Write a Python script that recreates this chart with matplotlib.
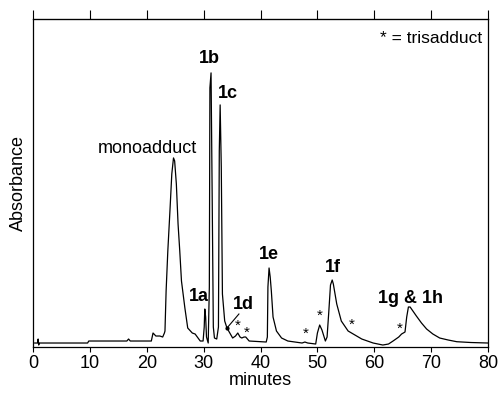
import matplotlib
matplotlib.use('Agg')
import matplotlib.pyplot as plt

plt.rcParams['font.family'] = ['Liberation Sans', 'DejaVu Sans']

# chromatogram trace (arbitrary absorbance units)
minutes = [0.3, 0.8, 0.9, 1.0, 1.1, 9.6, 9.8, 16.5, 16.8, 17.1, 20.8, 21.1, 21.6, 22.3,
           22.8, 23.1, 23.2, 23.4, 23.7, 24.1, 24.4, 24.7, 24.9, 25.2, 25.5, 25.8, 26.1,
           26.7, 27.2, 28.0, 28.5, 29.4, 29.9, 30.1, 30.2, 30.35, 30.5,
           30.8, 31.0, 31.1, 31.3, 31.5, 31.7, 31.9, 32.3, 32.6, 32.75, 32.9, 33.1, 33.3,
           33.7, 34.1, 34.6, 35.1, 35.6, 36.0, 36.4, 36.7, 37.1, 37.4, 38.0, 41.0, 41.2,
           41.3, 41.5, 41.7, 41.9, 42.2, 42.8, 43.7, 44.8, 47.3, 47.8, 48.3, 49.7, 50.0,
           50.4, 50.8, 51.4, 51.7, 52.0, 52.3, 52.6, 52.8, 53.4, 54.2, 55.4, 57.8,
           59.8, 61.5, 62.5, 63.3, 64.3, 64.8, 65.4, 65.7, 66.0, 66.3, 67.4, 68.3, 69.2,
           70.3, 71.5, 73.0, 74.5, 77.0, 80.0]
absorbance = [4, 4, 8, 2, 4, 4, 6, 6, 8, 6, 6, 14, 11, 11,
              10, 14, 16, 56, 96, 139, 173, 189, 186, 163, 123, 96, 66,
              39, 19, 14, 13, 6, 6, 20, 38, 30, 10,
              4, 60, 259, 274, 150, 20, 9, 8, 20, 196, 242, 180, 53,
              26, 19, 14, 9, 11, 14, 10, 9, 10, 10, 6, 5, 10,
              60, 79, 70, 56, 30, 16, 9, 6, 4, 5, 4, 3, 14,
              22, 17, 6, 10, 35, 62, 67, 63, 43, 26, 16, 8,
              4, 2, 3, 6, 10, 13, 15, 30, 40, 40, 31, 24, 18,
              13, 9, 7, 5.3, 4.5, 4]

peak_labels = ['1a', '1b', '1c', '1e', '1f', '1g & 1h']
peak_label_x = [29.2, 31.0, 34.2, 41.5, 52.8, 66.3]
peak_label_y = [42, 280, 245, 84, 71, 40]

star_x = [36.0, 37.6, 48.0, 50.4, 56.0, 64.5]
star_y = [14, 7, 6, 24, 15, 11]

fig = plt.figure(figsize=(4.98, 3.93), dpi=100)
ax = fig.add_axes([0.0663, 0.117, 0.9137, 0.835])

ax.plot(minutes, absorbance, color='black', lw=0.9)

ax.set_xlim(0, 80)
ax.set_ylim(0, 328)
ax.set_xticks(range(0, 81, 10))
ax.set_yticks([])
ax.tick_params(axis='x', direction='out', length=3.6, width=0.8, labelsize=13, pad=2)
for s in ax.spines.values():
    s.set_linewidth(0.9)

top = ax.secondary_xaxis('top')
top.set_xticks(range(0, 81, 10))
top.tick_params(direction='out', length=6.5, width=0.8, labeltop=False)

ax.set_xlabel('minutes', fontsize=13, labelpad=0)
ax.set_ylabel('Absorbance', fontsize=13, labelpad=4)

for lab, x, y in zip(peak_labels, peak_label_x, peak_label_y):
    ax.text(x, y, lab, fontsize=13, fontweight='bold', ha='center', va='bottom')

ax.text(20.1, 190, 'monoadduct', fontsize=13, ha='center', va='bottom')
ax.text(79, 308, '* = trisadduct', fontsize=12.5, ha='right', va='center')

# 1d pointer
ax.plot([34.1, 36.2], [19, 33], color='black', lw=0.8)
ax.plot([34.1], [19], 'o', color='black', ms=2)
ax.text(37.0, 34, '1d', fontsize=13, fontweight='bold', ha='center', va='bottom')

for x, y in zip(star_x, star_y):
    ax.text(x, y, '*', fontsize=11, ha='center', va='bottom')

fig.savefig('out.png', dpi=100)
